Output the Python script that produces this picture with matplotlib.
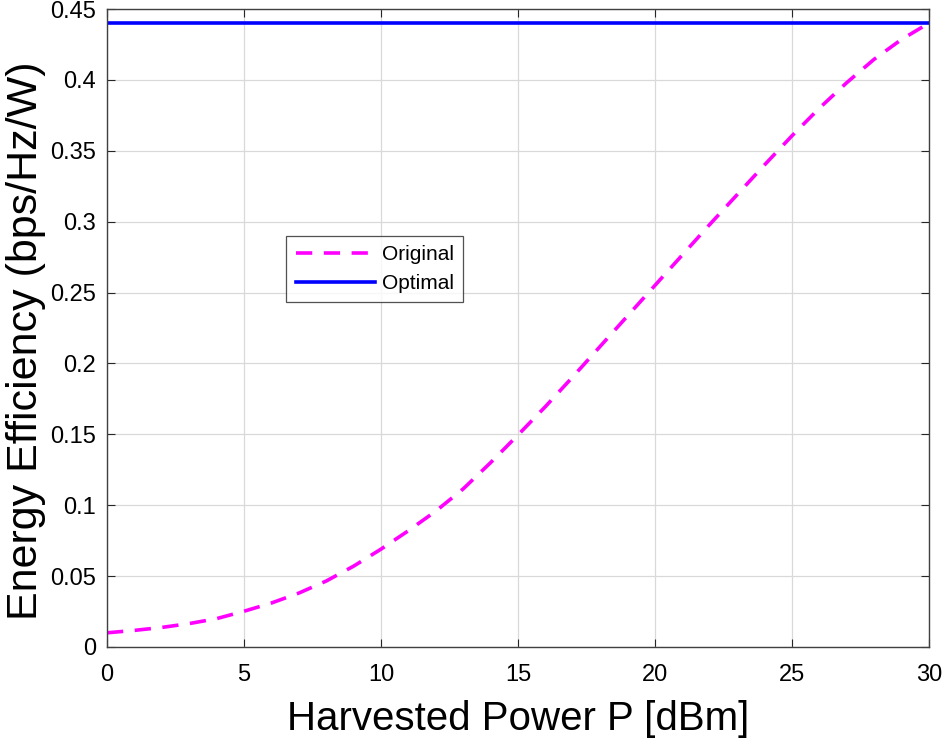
import matplotlib
matplotlib.use("Agg")
import matplotlib.pyplot as plt
import numpy as np

# harvested power (dBm)
P = np.arange(0, 31)
# energy efficiency
ee_original = [0.0100, 0.0117, 0.0138, 0.0165, 0.0200, 0.0252, 0.0310, 0.0380,
               0.0465, 0.0570, 0.0690, 0.0820, 0.0958, 0.1115, 0.1300, 0.1495,
               0.1695, 0.1905, 0.2120, 0.2335, 0.2550, 0.2765, 0.2980, 0.3190,
               0.3400, 0.3605, 0.3800, 0.3980, 0.4145, 0.4285, 0.4400]
ee_optimal = [0.4398] * len(P)

plt.rcParams['font.family'] = ['Liberation Sans', 'DejaVu Sans']

fig = plt.figure(figsize=(9.43, 7.44), dpi=100)
ax = fig.add_axes([0.1135, 0.1304, 0.8715, 0.8575])

ax.plot(P, ee_original, color="#ff00ff", linestyle=(0, (4.5, 3.2)), linewidth=2.6, label="Original")
ax.plot(P, ee_optimal, color="#0000ff", linewidth=2.6, label="Optimal")

ax.set_xlim(0, 30)
ax.set_ylim(0, 0.45)
ax.set_xticks(np.arange(0, 31, 5))
ax.set_yticks(np.arange(0, 0.451, 0.05))
ax.set_yticklabels(["0", "0.05", "0.1", "0.15", "0.2", "0.25", "0.3", "0.35", "0.4", "0.45"])
ax.grid(True, color="#d9d9d9", linewidth=0.9)
ax.set_axisbelow(True)
ax.tick_params(direction="in", top=True, right=True, labelsize=17, length=6,
               color="#262626")
ax.tick_params(axis="x", pad=12)
ax.tick_params(axis="y", pad=8)
for s in ax.spines.values():
    s.set_color("#404040")
    s.set_linewidth(1.0)

ax.set_xlabel("Harvested Power P [dBm]", fontsize=29)
ax.set_ylabel("Energy Efficiency (bps/Hz/W)", fontsize=31)
ax.xaxis.set_label_coords(0.5, -0.083)
ax.yaxis.set_label_coords(-0.074, 0.48)

leg = ax.legend(loc="upper left", bbox_to_anchor=(0.218, 0.644), borderaxespad=0,
                fontsize=15, frameon=True, fancybox=False, edgecolor="#262626",
                handlelength=3.8, handletextpad=0.35, borderpad=0.45, labelspacing=0.45)
leg.get_frame().set_linewidth(0.9)

fig.savefig("out.png", dpi=100)
